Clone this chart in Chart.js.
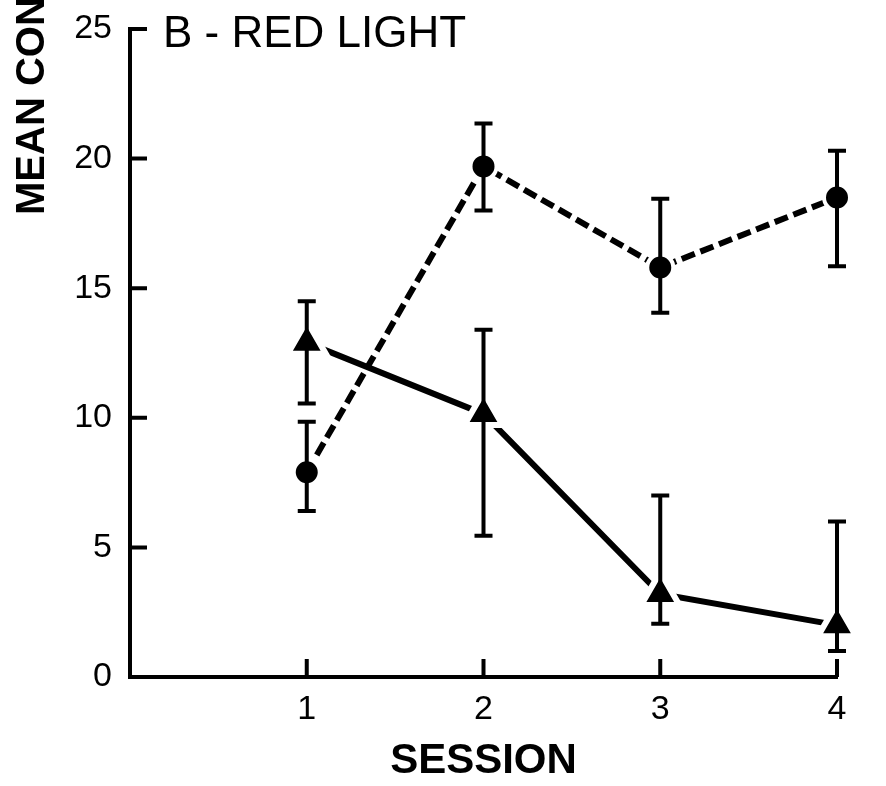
<!DOCTYPE html>
<html>
<head>
<meta charset="utf-8">
<script src="https://cdn.jsdelivr.net/npm/chart.js@4.4.1/dist/chart.umd.min.js"></script>
<style>
  html, body { margin: 0; padding: 0; background: #fff; }
  #wrap { width: 886px; height: 786px; }
</style>
</head>
<body>
<div id="wrap"><canvas id="chart" width="886" height="786"></canvas></div>
<script>
// data
const sessions = [1, 2, 3, 4];
const sessionLabels = ['1', '2', '3', '4'];
const yTicks = [0, 5, 10, 15, 20, 25];

// dashed line, filled circles
const circleMean = [7.9, 19.7, 15.8, 18.5];
const circleLow = [6.4, 18.0, 14.05, 15.85];
const circleHigh = [9.85, 21.35, 18.45, 20.3];

// solid line, filled triangles
const triangleMean = [12.9, 10.15, 3.2, 2.0];
const triangleLow = [10.55, 5.45, 2.05, 1.0];
const triangleHigh = [14.5, 13.4, 7.0, 6.0];

const panelTitle = 'B - RED LIGHT';
const yTitle = 'MEAN CONSUMPTION';
const xTitle = 'SESSION';

const FONT = '"Liberation Sans", Arial, sans-serif';

const toPoints = vals => sessions.map((s, i) => ({ x: s, y: vals[i] }));

// tick marks pointing into the plot
const innerTicks = {
  id: 'innerTicks',
  beforeDatasetsDraw(chart) {
    const { ctx, scales: { x, y }, chartArea } = chart;
    ctx.save();
    ctx.strokeStyle = '#000';
    ctx.lineWidth = 4;
    ctx.beginPath();
    y.ticks.forEach(t => {
      const py = y.getPixelForValue(t.value);
      ctx.moveTo(chartArea.left, py);
      ctx.lineTo(chartArea.left + 17, py);
    });
    x.ticks.forEach(t => {
      const px = x.getPixelForValue(t.value);
      ctx.moveTo(px, chartArea.bottom);
      ctx.lineTo(px, chartArea.bottom - 18);
    });
    ctx.stroke();
    ctx.restore();
  }
};

// error bars, drawn on top of the markers
const errorBars = {
  id: 'errorBars',
  afterDatasetsDraw(chart) {
    const { ctx, scales: { y } } = chart;
    ctx.save();
    ctx.strokeStyle = '#000';
    ctx.lineWidth = 4;
    chart.data.datasets.forEach((ds, i) => {
      const meta = chart.getDatasetMeta(i);
      meta.data.forEach((el, j) => {
        const top = y.getPixelForValue(ds.errHigh[j]);
        const bot = y.getPixelForValue(ds.errLow[j]);
        ctx.beginPath();
        ctx.moveTo(el.x, top);
        ctx.lineTo(el.x, bot);
        ctx.moveTo(el.x - 9, top);
        ctx.lineTo(el.x + 9, top);
        ctx.moveTo(el.x - 9, bot);
        ctx.lineTo(el.x + 9, bot);
        ctx.stroke();
      });
    });
    ctx.restore();
  }
};

// panel label and the rotated y title
const labels = {
  id: 'labels',
  afterDraw(chart) {
    const { ctx } = chart;
    ctx.save();
    ctx.fillStyle = '#000';
    ctx.font = '44px ' + FONT;
    ctx.textAlign = 'left';
    ctx.textBaseline = 'alphabetic';
    ctx.fillText(panelTitle, 163, 47);

    ctx.translate(44, 215);
    ctx.rotate(-Math.PI / 2);
    ctx.font = 'bold 40px ' + FONT;
    ctx.fillText(yTitle, 0, 0);
    ctx.restore();
  }
};

new Chart(document.getElementById('chart'), {
  type: 'line',
  data: {
    datasets: [
      {
        label: 'circles',
        data: toPoints(circleMean),
        errLow: circleLow,
        errHigh: circleHigh,
        borderColor: '#000',
        borderWidth: 6,
        borderDash: [14, 6],
        pointStyle: 'circle',
        pointRadius: 13,
        pointBackgroundColor: '#000',
        pointBorderColor: '#fff',
        pointBorderWidth: 4,
        tension: 0,
        clip: false
      },
      {
        label: 'triangles',
        data: toPoints(triangleMean),
        errLow: triangleLow,
        errHigh: triangleHigh,
        borderColor: '#000',
        borderWidth: 6,
        pointStyle: 'triangle',
        pointRadius: 22,
        pointBackgroundColor: '#000',
        pointBorderColor: '#fff',
        pointBorderWidth: 6,
        tension: 0,
        clip: false
      }
    ]
  },
  options: {
    responsive: false,
    animation: false,
    devicePixelRatio: 1,
    layout: { padding: { top: 29, right: 49, left: 0, bottom: 0 } },
    plugins: {
      legend: { display: false },
      tooltip: { enabled: false }
    },
    scales: {
      x: {
        type: 'linear',
        min: 0,
        max: 4,
        afterBuildTicks: s => { s.ticks = sessions.map(v => ({ value: v })); },
        afterFit: s => { s.height = 109; s.paddingLeft = 0; s.paddingRight = 0; },
        grid: { display: false, drawTicks: false },
        border: { display: true, color: '#000', width: 4 },
        ticks: {
          color: '#000',
          font: { family: FONT, size: 34 },
          padding: 12,
          maxRotation: 0,
          callback: (v, i) => sessionLabels[i]
        },
        title: {
          display: true,
          text: xTitle,
          color: '#000',
          font: { family: FONT, size: 42, weight: 'bold', lineHeight: 1.15 },
          padding: { top: 0, bottom: 0 }
        }
      },
      y: {
        min: 0,
        max: 25,
        afterBuildTicks: s => { s.ticks = yTicks.map(v => ({ value: v })); },
        afterFit: s => { s.width = 130; s.paddingTop = 0; s.paddingBottom = 0; },
        grid: { display: false, drawTicks: false },
        border: { display: true, color: '#000', width: 4 },
        ticks: {
          color: '#000',
          font: { family: FONT, size: 34 },
          padding: 18,
          callback: v => String(v)
        }
      }
    }
  },
  plugins: [innerTicks, errorBars, labels]
});
</script>
</body>
</html>
